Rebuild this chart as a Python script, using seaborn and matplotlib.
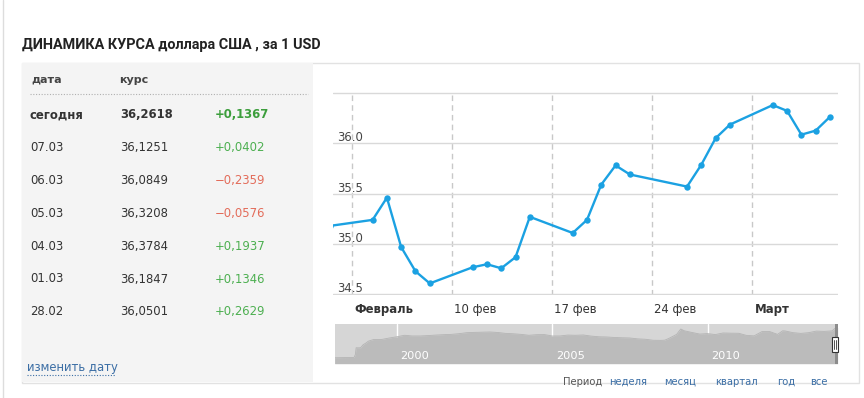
import pandas as pd
import matplotlib
matplotlib.use("Agg")
import matplotlib.pyplot as plt
from matplotlib.transforms import ScaledTranslation
from matplotlib.patches import Rectangle
from matplotlib.lines import Line2D
import seaborn as sns

# --- table on the left ---
row_dates = ["сегодня", "07.03", "06.03", "05.03", "04.03", "01.03", "28.02"]
row_rates = ["36,2618", "36,1251", "36,0849", "36,3208", "36,3784", "36,1847", "36,0501"]
row_changes = ["+0,1367", "+0,0402", "\u22120,2359", "\u22120,0576", "+0,1937", "+0,1346", "+0,2629"]

# --- daily rate, main chart ---
day_dates = ["2014-02-01", "2014-02-04", "2014-02-05", "2014-02-06", "2014-02-07",
             "2014-02-08", "2014-02-11", "2014-02-12", "2014-02-13", "2014-02-14",
             "2014-02-15", "2014-02-18", "2014-02-19", "2014-02-20", "2014-02-21",
             "2014-02-22", "2014-02-26", "2014-02-27", "2014-02-28", "2014-03-01",
             "2014-03-04", "2014-03-05", "2014-03-06", "2014-03-07", "2014-03-08"]
day_rates = [35.18, 35.24, 35.46, 34.97, 34.73,
             34.61, 34.77, 34.80, 34.76, 34.87,
             35.27, 35.11, 35.24, 35.59, 35.78,
             35.69, 35.57, 35.7872, 36.0501, 36.1847,
             36.3784, 36.3208, 36.0849, 36.1251, 36.2618]

tick_dates = ["2014-02-03", "2014-02-10", "2014-02-17", "2014-02-24", "2014-03-03"]
tick_labels = ["Февраль", "10 фев", "17 фев", "24 фев", "Март"]
rate_ticks = [34.5, 35.0, 35.5, 36.0, 36.5]
rate_labels = ["34.5", "35.0", "35.5", "36.0", ""]

# --- long history, navigator ---
hist_dates = ["1998-01-01", "1998-04-01", "1998-07-01", "1998-08-17", "1998-09-01",
              "1998-09-10", "1998-10-01", "1998-11-01", "1998-12-01", "1999-01-01",
              "1999-02-01", "1999-04-01", "1999-07-01", "1999-10-01", "2000-01-01",
              "2000-04-01", "2000-07-01", "2000-10-01", "2001-01-01", "2001-04-01",
              "2001-07-01", "2001-10-01", "2002-01-01", "2002-04-01", "2002-07-01",
              "2002-10-01", "2003-01-01", "2003-04-01", "2003-07-01", "2003-10-01",
              "2004-01-01", "2004-04-01", "2004-07-01", "2004-10-01", "2005-01-01",
              "2005-04-01", "2005-07-01", "2005-10-01", "2006-01-01", "2006-04-01",
              "2006-07-01", "2006-10-01", "2007-01-01", "2007-04-01", "2007-07-01",
              "2007-10-01", "2008-01-01", "2008-04-01", "2008-07-01", "2008-08-15",
              "2008-10-01", "2008-11-15", "2009-01-01", "2009-02-19", "2009-04-01",
              "2009-07-01", "2009-10-01", "2010-01-01", "2010-04-01", "2010-07-01",
              "2010-10-01", "2011-01-01", "2011-04-01", "2011-07-01", "2011-10-01",
              "2012-01-01", "2012-04-01", "2012-06-01", "2012-07-01", "2012-10-01",
              "2013-01-01", "2013-04-01", "2013-07-01", "2013-10-01", "2014-01-01",
              "2014-02-01", "2014-03-08"]
hist_rates = [5.96, 6.10, 6.20, 6.30, 9.3,
              16.0, 15.9, 16.0, 19.0, 20.6,
              22.6, 24.2, 24.2, 25.7, 27.0,
              28.5, 27.8, 27.8, 28.2, 28.7,
              29.1, 29.4, 30.1, 31.1, 31.4,
              31.6, 31.8, 31.3, 30.4, 30.0,
              29.4, 28.5, 29.1, 29.2, 27.8,
              27.8, 28.7, 28.5, 28.8, 27.7,
              27.0, 26.8, 26.3, 26.0, 25.8,
              24.9, 24.5, 23.5, 23.4, 23.6,
              25.3, 27.3, 29.4, 34.8, 33.0,
              31.3, 29.7, 30.2, 29.2, 30.8,
              30.6, 30.5, 28.4, 27.9, 32.2,
              32.2, 29.4, 33.0, 32.8, 31.1,
              30.4, 31.1, 32.7, 32.4, 32.9,
              35.2, 36.26]
year_marks = ["2000-01-01", "2005-01-01", "2010-01-01"]
year_labels = ["2000", "2005", "2010"]

period_links = ["неделя", "месяц", "квартал", "год", "все"]

W, H = 864, 398
BLUE = "#1ba1e2"
GREEN = "#4caf50"
RED = "#e36c5a"

sns.set_theme(style="white")
plt.rcParams["font.family"] = ["DejaVu Sans"]

fig = plt.figure(figsize=(W / 100, H / 100), dpi=100)
fig.patch.set_facecolor("white")


def box(x0, y0, x1, y1):
    return [x0 / W, 1 - y1 / H, (x1 - x0) / W, (y1 - y0) / H]


def ftext(x, y, s, **kw):
    return fig.text(x / W, 1 - y / H, s, **kw)


def fline(xs, ys, **kw):
    fig.add_artist(Line2D([x / W for x in xs], [1 - y / H for y in ys],
                          transform=fig.transFigure, **kw))


# page border + card (behind the axes)
fline([3, 3], [0, 398], color="#dddddd", lw=1, zorder=-2)
fig.add_artist(Rectangle((22 / W, 1 - 383 / H), (859 - 22) / W, (383 - 63) / H,
                         transform=fig.transFigure, facecolor="white",
                         edgecolor="#e2e2e2", lw=1, zorder=-2))
fig.add_artist(Rectangle((22 / W, 1 - 382 / H), (313 - 22) / W, (382 - 63) / H,
                         transform=fig.transFigure, facecolor="#f4f4f4",
                         edgecolor="none", zorder=-1))

ftext(22, 45, "ДИНАМИКА КУРСА доллара США , за 1 USD", family=["Roboto", "DejaVu Sans"],
      fontsize=10.4, fontweight="bold", color="#222222", va="center")

# table
ftext(31, 80, "дата", fontsize=8, fontweight="bold", color="#444444", va="center")
ftext(119, 80, "курс", fontsize=8, fontweight="bold", color="#444444", va="center")
fline([30, 308], [94, 94], color="#b0b0b0", lw=0.8, linestyle=(0, (1, 1.5)))

for i, (d, r, c) in enumerate(zip(row_dates, row_rates, row_changes)):
    y = 115 + i * 32.8
    w = "bold" if i == 0 else "normal"
    col = GREEN if c.startswith("+") else RED
    if i == 0:
        col = "#3c9e3c"
    ftext(30, y, d, fontsize=8.4, fontweight=w, color="#333333", va="center")
    ftext(120, y, r, fontsize=8.4, fontweight=w, color="#333333", va="center")
    ftext(215, y, c, fontsize=8.4, fontweight=w, color=col, va="center")

ftext(27, 367, "изменить дату", fontsize=8.4, color="#3b6ea5", va="center")
fline([27, 115], [374.5, 374.5], color="#3b6ea5", lw=0.8, linestyle=(0, (1, 1.5)))

# main chart
ax = fig.add_axes(box(333.3, 92.3, 838.3, 295))
ax.set_facecolor("none")
df = pd.DataFrame({"date": pd.to_datetime(day_dates) + pd.Timedelta(hours=11),
                   "rate": day_rates})
sns.lineplot(data=df, x="date", y="rate", ax=ax, color=BLUE, lw=1.7,
             marker="o", markersize=4.6, markeredgewidth=0, zorder=3)
x_left = pd.Timestamp("2014-02-01 17:00")
x_right = pd.Timestamp("2014-03-09 01:00")
ax.set_xlim(x_left, x_right)
ax.set_ylim(34.495, 36.505)
for s in ax.spines.values():
    s.set_visible(False)
ax.set_xlabel("")
ax.set_ylabel("")

ax.set_yticks(rate_ticks)
ax.set_yticklabels(rate_labels)
ax.yaxis.grid(True, color="#d9d9d9", lw=1)
ax.set_xticks(pd.to_datetime(tick_dates))
ax.set_xticklabels(tick_labels)
ax.xaxis.grid(True, color="#c8c8c8", lw=1, linestyle=(0, (4, 3)))
ax.tick_params(axis="y", length=0, pad=-3, labelsize=8.4, labelcolor="#444444")
ax.tick_params(axis="x", length=0, pad=6, labelsize=8.4, labelcolor="#333333")
for lbl in ax.get_yticklabels():
    lbl.set_ha("left")
    lbl.set_va("baseline")
    lbl.set_transform(lbl.get_transform() + ScaledTranslation(0, 0.02, fig.dpi_scale_trans))
for i, lbl in enumerate(ax.get_xticklabels()):
    lbl.set_ha("left")
    lbl.set_transform(lbl.get_transform() + ScaledTranslation(0.025, 0, fig.dpi_scale_trans))
    if i in (0, len(tick_labels) - 1):
        lbl.set_fontweight("bold")

# navigator
nav = fig.add_axes(box(334.7, 324.3, 837.7, 363.7))
nav.set_facecolor("#d6d6d6")
hist = pd.DataFrame({"date": pd.to_datetime(hist_dates), "rate": hist_rates})
nav.fill_between(hist["date"], hist["rate"], color="#bbbbbb", lw=0, zorder=1)
sns.lineplot(data=hist, x="date", y="rate", ax=nav, color="#b4b4b4", lw=0.6, zorder=2)
nav.axvspan(x_left, x_right, color="#8c8c8c", lw=0, zorder=2)
nav.set_xlim(pd.Timestamp("1998-01-01"), x_right)
nav.set_ylim(0, 39.5)
nav.set_xticks(pd.to_datetime(year_marks))
nav.set_xticklabels([])
nav.set_yticks([])
nav.xaxis.grid(True, color="white", lw=1, zorder=3)
nav.tick_params(length=0)
nav.set_xlabel("")
nav.set_ylabel("")
for s in nav.spines.values():
    s.set_visible(False)
for d, t in zip(year_marks, year_labels):
    nav.text(pd.Timestamp(d), 0.12, t, transform=nav.get_xaxis_transform() +
             ScaledTranslation(0.035, 0, fig.dpi_scale_trans),
             color="white", fontsize=8.2, ha="left", va="baseline", zorder=4)

# navigator handle
fig.add_artist(Rectangle((832.3 / W, 1 - 351.7 / H), 5.4 / W, 15 / H,
                         transform=fig.transFigure, facecolor="white",
                         edgecolor="#333333", lw=0.8))
fline([834.4, 834.4], [340, 348.5], color="#333333", lw=0.6)
fline([835.8, 835.8], [340, 348.5], color="#333333", lw=0.6)

# period links
ftext(562.5, 382, "Период", fontsize=7.2, color="#555555", va="center")
link_x = [608.7, 664.5, 715, 777, 810.5]
for x, t in zip(link_x, period_links):
    ftext(x, 382, t, fontsize=7.2, color="#3b6ea5", va="center")

fig.savefig("out.png", dpi=100)
